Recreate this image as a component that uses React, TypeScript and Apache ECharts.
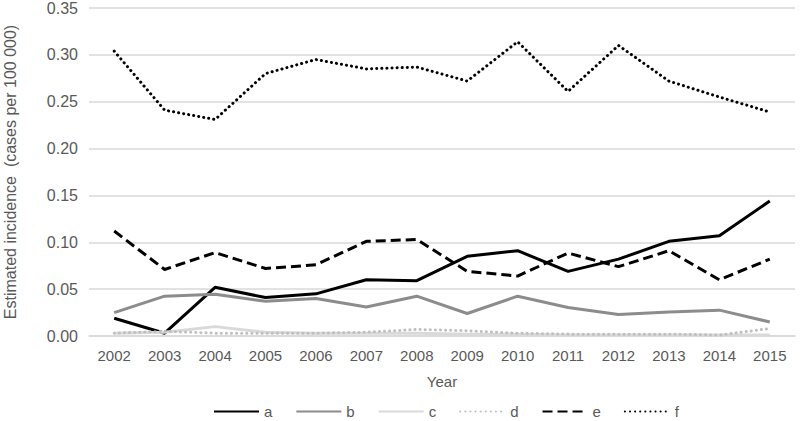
import React, { useEffect, useRef } from "react";
import * as echarts from "echarts";

const years = ["2002","2003","2004","2005","2006","2007","2008","2009","2010","2011","2012","2013","2014","2015"];
const seriesA = [0.019, 0.003, 0.052, 0.041, 0.045, 0.060, 0.059, 0.085, 0.091, 0.069, 0.082, 0.101, 0.107, 0.144];
const seriesB = [0.025, 0.0425, 0.0446, 0.037, 0.040, 0.031, 0.0425, 0.024, 0.0425, 0.0305, 0.023, 0.0255, 0.0276, 0.015];
const seriesC = [0.003, 0.004, 0.010, 0.004, 0.003, 0.003, 0.003, 0.002, 0.002, 0.001, 0.001, 0.001, 0.001, 0.001];
const seriesD = [0.003, 0.005, 0.003, 0.003, 0.003, 0.004, 0.007, 0.0056, 0.003, 0.002, 0.002, 0.002, 0.001, 0.008];
const seriesE = [0.112, 0.071, 0.089, 0.072, 0.076, 0.101, 0.103, 0.069, 0.064, 0.0885, 0.074, 0.091, 0.060, 0.082];
const seriesF = [0.304, 0.241, 0.231, 0.280, 0.295, 0.285, 0.287, 0.272, 0.314, 0.261, 0.310, 0.272, 0.255, 0.239];
const yTicks = { min: 0, max: 0.35, interval: 0.05 };

const FONT = "'Liberation Sans', Arial, sans-serif";
const TXT = "#595959";

export default function App() {
  const ref = useRef<HTMLDivElement>(null);
  useEffect(() => {
    document.body.style.margin = "0";
    if (!ref.current) return;
    const chart = echarts.init(ref.current, null, { renderer: "svg" });
    const mk = (name: string, data: number[], color: string, type: any, dotted = false) => ({
      name,
      type: "line",
      data,
      symbol: "none",
      showSymbol: false,
      lineStyle: { color, width: 3, type, cap: dotted ? "round" : "butt" },
      itemStyle: { color, opacity: 0 },
    });
    chart.setOption({
      animation: false,
      textStyle: { fontFamily: FONT },
      grid: { left: 89, right: 5, top: 8, bottom: 85, containLabel: false, outerBoundsMode: "none" },
      legend: {
        bottom: -3,
        left: 208,
        itemWidth: 45,
        itemHeight: 10,
        itemGap: 23,
        itemStyle: { opacity: 0 },
        textStyle: { color: TXT, fontSize: 15, fontFamily: FONT },
        data: ["a", "b", "c", "d", "e", "f"],
      },
      xAxis: {
        type: "category",
        data: years,
        boundaryGap: true,
        name: "Year",
        nameLocation: "middle",
        nameGap: 38,
        nameTextStyle: { color: TXT, fontSize: 15, fontFamily: FONT },
        axisLine: { lineStyle: { color: "#d9d9d9", width: 1.5 } },
        axisTick: { show: false },
        axisLabel: { color: TXT, fontSize: 15, margin: 12, fontFamily: FONT },
      },
      yAxis: {
        type: "value",
        min: yTicks.min,
        max: yTicks.max,
        interval: yTicks.interval,
        name: "Estimated incidence  (cases per 100 000)",
        nameLocation: "middle",
        nameGap: 71,
        nameTextStyle: { color: TXT, fontSize: 16, fontFamily: FONT },
        axisLine: { show: false },
        axisTick: { show: false },
        axisLabel: { color: TXT, fontSize: 16, margin: 11, fontFamily: FONT, formatter: (v: number) => v.toFixed(2) },
        splitLine: { lineStyle: { color: "#d9d9d9", width: 1.5 } },
      },
      series: [
        mk("a", seriesA, "#000000", "solid"),
        mk("b", seriesB, "#8c8c8c", "solid"),
        mk("c", seriesC, "#d9d9d9", "solid"),
        mk("d", seriesD, "#bfbfbf", [0.1, 5], true),
        mk("e", seriesE, "#000000", [10, 5]),
        mk("f", seriesF, "#000000", [0.1, 5], true),
      ],
    });
    return () => chart.dispose();
  }, []);
  return <div ref={ref} style={{ width: 800, height: 421 }} />;
}
